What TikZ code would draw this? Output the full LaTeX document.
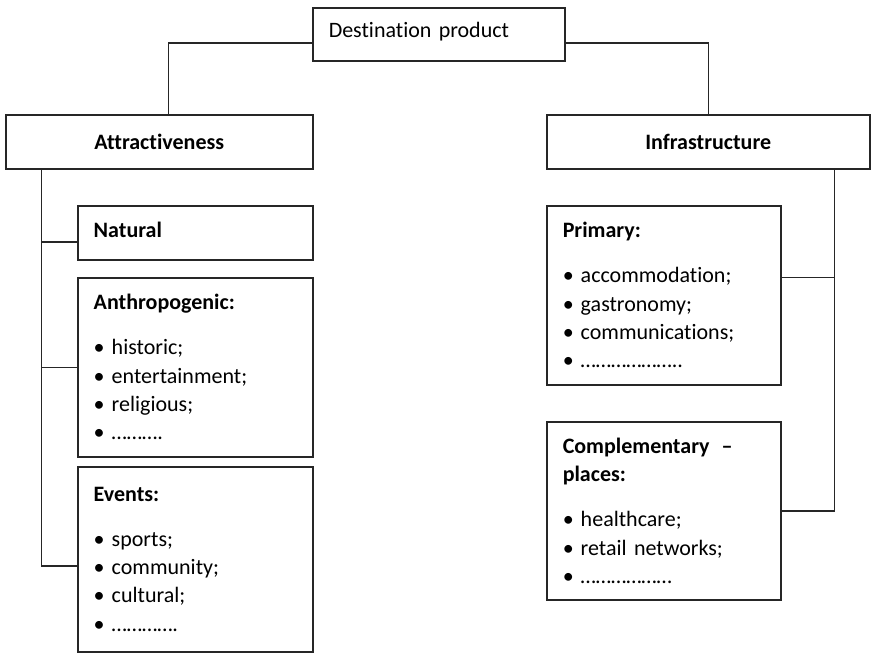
\documentclass[tikz,border=0pt]{standalone}
\usepackage{fontspec}
\setmainfont{Carlito}[Ligatures=CommonOff]
\usetikzlibrary{positioning}
\newcommand{\itm}{\makebox[9pt][l]{\textbullet}}

\begin{document}
\begin{tikzpicture}[
  x=0.5pt,y=-0.5pt,line width=0.75pt,
  conn/.style={draw=black!85},
  head/.style={draw=black!85,anchor=north west,align=center,inner sep=0pt,
    font=\fontsize{11}{14.2}\selectfont\bfseries},
  leaf/.style={draw=black!85,anchor=north west,align=left,inner xsep=8pt,inner ysep=0pt,
    text width=101.5pt,font=\fontsize{11}{14.2}\selectfont}
]
\useasboundingbox (0,0) rectangle (874,653);
\node[leaf,text width=110pt,minimum height=26.5pt] (dest) at (312,7)
  {\raisebox{4pt}{Destination product}};
\node[head,minimum width=153.5pt,minimum height=27pt] (attr) at (5,114) {Attractiveness};
\node[head,minimum width=161.5pt,minimum height=27pt] (infra) at (546,114) {Infrastructure};
% left side
\node[leaf,minimum height=27pt] (nat) at (77,205) {\raisebox{3pt}{\textbf{Natural}}};
\node[leaf,minimum height=89.5pt] (anthro) at (77,277) {\textbf{Anthropogenic:}\\[8.3pt]
  \itm historic;\\ \itm entertainment;\\ \itm religious;\\ \itm ……….};
\node[leaf,minimum height=92.5pt] (events) at (77,466) {\raisebox{2.5pt}{\textbf{Events:}}\\[5.8pt]
  \itm sports;\\ \itm community;\\ \itm cultural;\\ \itm ………….\\[-2.5pt]};
% right side
\node[leaf,text width=101pt,minimum height=89.5pt] (prim) at (546,205) {\textbf{Primary:}\\[8.3pt]
  \itm accommodation;\\ \itm gastronomy;\\ \itm communications;\\ \itm ………………..};
\node[leaf,text width=101pt,minimum height=89pt] (compl) at (546,421) {\textbf{Complementary\hspace{6pt}–}\\
  \textbf{places:}\\[8.3pt]
  \itm healthcare;\\ \itm retail networks;\\ \itm ………………};
% connectors
\coordinate (ltrunk) at ([xshift=18.3pt]attr.south west);
\coordinate (rtrunk) at ([xshift=-18pt]infra.south east);
\coordinate (dl) at ([yshift=-4.4pt]dest.west);
\coordinate (dr) at ([yshift=-4.4pt]dest.east);
\coordinate (natin) at ([yshift=-4.5pt]nat.west);
\coordinate (evin) at ([yshift=-3.25pt]events.west);
\coordinate (primin) at ([yshift=8.9pt]prim.east);
\draw[conn] (dl) -| ([xshift=4.6pt]attr.north);
\draw[conn] (dr) -| (infra.north);
\draw[conn] (ltrunk) |- (evin);
\draw[conn] (natin) -- (natin -| ltrunk);
\draw[conn] (anthro.west) -- (anthro.west -| ltrunk);
\draw[conn] (rtrunk) |- (compl.east);
\draw[conn] (primin) -- (primin -| rtrunk);
\end{tikzpicture}
\end{document}
